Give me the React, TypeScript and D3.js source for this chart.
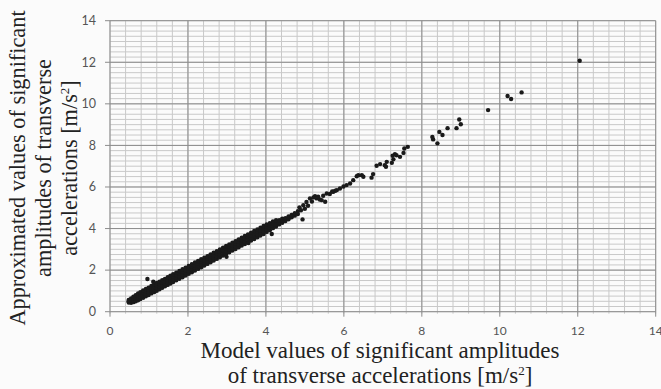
import React, { useEffect, useRef } from 'react';
import * as d3 from 'd3';

// dense band: [x, y1, y2, y3, y4]
const bandLow = [
  [0.48, 0.44, 0.5, 0.56],
  [0.54, 0.43, 0.51, 0.58, 0.64],
  [0.6, 0.46, 0.55, 0.64, 0.72],
  [0.66, 0.5, 0.61, 0.7, 0.79],
  [0.72, 0.55, 0.66, 0.77, 0.88],
  [0.78, 0.61, 0.71, 0.83, 0.94],
  [0.85, 0.67, 0.79, 0.9, 1.02],
  [0.92, 0.74, 0.85, 0.97, 1.09],
  [0.99, 0.8, 0.93, 1.05, 1.16],
  [1.06, 0.88, 0.99, 1.12, 1.24],
  [1.13, 0.94, 1.07, 1.19, 1.3],
  [1.2, 1.01, 1.13, 1.26, 1.38],
  [1.27, 1.08, 1.21, 1.33, 1.44],
  [1.34, 1.15, 1.27, 1.4, 1.52],
  [1.41, 1.22, 1.35, 1.47, 1.58],
  [1.48, 1.29, 1.41, 1.54, 1.66],
  [1.55, 1.36, 1.49, 1.61, 1.73],
  [1.62, 1.43, 1.55, 1.68, 1.8],
  [1.7, 1.51, 1.64, 1.76, 1.88],
  [1.78, 1.58, 1.71, 1.84, 1.96],
  [1.86, 1.66, 1.8, 1.92, 2.04],
  [1.94, 1.74, 1.87, 2.0, 2.12],
];

const bandMid = [
  [2.02, 1.82, 1.95, 2.08, 2.2],
  [2.1, 1.9, 2.04, 2.16, 2.28],
  [2.18, 1.98, 2.11, 2.24, 2.37],
  [2.26, 2.06, 2.2, 2.32, 2.44],
  [2.34, 2.14, 2.27, 2.4, 2.52],
  [2.42, 2.22, 2.36, 2.48, 2.6],
  [2.5, 2.3, 2.43, 2.56, 2.67],
  [2.58, 2.38, 2.52, 2.64, 2.76],
  [2.66, 2.46, 2.59, 2.72, 2.84],
  [2.74, 2.54, 2.68, 2.8, 2.91],
  [2.82, 2.62, 2.75, 2.88, 3.0],
  [2.9, 2.7, 2.84, 2.96, 3.08],
  [2.98, 2.78, 2.91, 3.04, 3.16],
  [3.06, 2.86, 3.0, 3.12, 3.24],
  [3.14, 2.94, 3.07, 3.2, 3.32],
  [3.22, 3.02, 3.16, 3.28, 3.39],
  [3.3, 3.1, 3.23, 3.36, 3.48],
  [3.38, 3.18, 3.32, 3.44, 3.56],
];

const bandHigh = [
  [3.46, 3.26, 3.39, 3.52, 3.64],
  [3.54, 3.34, 3.48, 3.6, 3.72],
  [3.62, 3.42, 3.55, 3.68, 3.8],
  [3.7, 3.5, 3.64, 3.76, 3.88],
  [3.78, 3.58, 3.71, 3.84, 3.96],
  [3.86, 3.66, 3.8, 3.92, 4.04],
  [3.94, 3.74, 3.87, 4.0, 4.12],
  [4.02, 3.84, 3.96, 4.08, 4.2],
  [4.1, 3.92, 4.04, 4.16, 4.26],
  [4.18, 4.02, 4.13, 4.24, 4.34],
  [4.26, 4.1, 4.2, 4.32, 4.4],
  [4.34, 4.2, 4.3, 4.4],
  [4.42, 4.28, 4.38, 4.48],
  [4.5, 4.36, 4.5],
  [4.58, 4.45, 4.58],
  [4.66, 4.54, 4.66],
  [4.74, 4.62, 4.74],
  [4.82, 4.7, 4.84],
];

// scattered points [x, y]
const strays = [
  [0.96, 1.57], [1.11, 1.44], [2.99, 2.64], [3.55, 3.3], [4.15, 3.74], [4.94, 4.44],
];

const tail = [
  [4.86, 5.02], [4.9, 4.88], [4.96, 5.12], [5.0, 4.95], [5.04, 5.28], [5.08, 5.1],
  [5.13, 5.45], [5.18, 5.3], [5.22, 5.5], [5.26, 5.56], [5.3, 5.45], [5.34, 5.53],
  [5.38, 5.4], [5.43, 5.37], [5.47, 5.58], [5.52, 5.29], [5.56, 5.69], [5.64, 5.66],
  [5.7, 5.78], [5.73, 5.77], [5.78, 5.82], [5.82, 5.85], [5.9, 5.93], [5.99, 6.02],
  [6.07, 6.09], [6.16, 6.17], [6.24, 6.33], [6.33, 6.52], [6.37, 6.57], [6.46, 6.57],
  [6.5, 6.49], [6.71, 6.45], [6.75, 6.62], [6.84, 7.02], [6.93, 7.1], [7.05, 7.05],
  [7.08, 6.97], [7.1, 7.21], [7.23, 7.16], [7.27, 7.33], [7.25, 7.5], [7.31, 7.58],
  [7.35, 7.53], [7.44, 7.45], [7.53, 7.64], [7.55, 7.85], [7.64, 7.93],
  [8.27, 8.41], [8.29, 8.29], [8.4, 8.1], [8.45, 8.65], [8.53, 8.5], [8.66, 8.83],
  [8.89, 8.83], [8.96, 9.25], [9.0, 9.02], [9.7, 9.7], [10.2, 10.38], [10.29, 10.23],
  [10.56, 10.55], [12.05, 12.07],
];

const xTicks = [0, 2, 4, 6, 8, 10, 12, 14];
const yTicks = [0, 2, 4, 6, 8, 10, 12, 14];

const yTitle = ['Approximated values of significant', 'amplitudes of transverse', 'accelerations [m/s'];
const xTitle = ['Model values of significant amplitudes', 'of transverse accelerations [m/s'];

const App = () => {
  const svgRef = useRef(null);

  useEffect(() => {
    const svg = d3.select(svgRef.current);
    svg.selectAll('*').remove();

    const x = d3.scaleLinear().domain([0, 14]).range([110, 655.7]);
    const y = d3.scaleLinear().domain([0, 14]).range([311.7, 20.7]);

    svg.append('rect').attr('width', 661).attr('height', 389).attr('fill', '#fbfbfb');

    const grid = svg.append('g');
    // minor grid
    d3.range(0, 14.001, 0.4).forEach(v => {
      grid.append('line')
        .attr('x1', x(v)).attr('x2', x(v))
        .attr('y1', y(14)).attr('y2', y(0) + 2)
        .attr('stroke', '#c9c9c9').attr('stroke-width', 1);
    });
    d3.range(0, 14.001, 0.25).forEach(v => {
      grid.append('line')
        .attr('x1', x(0)).attr('x2', x(14))
        .attr('y1', y(v)).attr('y2', y(v))
        .attr('stroke', '#c9c9c9').attr('stroke-width', 1);
    });
    // major grid
    xTicks.forEach(v => {
      grid.append('line')
        .attr('x1', x(v)).attr('x2', x(v))
        .attr('y1', y(14)).attr('y2', y(0) + 5)
        .attr('stroke', '#8c8c8c').attr('stroke-width', 1);
    });
    yTicks.forEach(v => {
      grid.append('line')
        .attr('x1', x(0) - 5).attr('x2', x(14))
        .attr('y1', y(v)).attr('y2', y(v))
        .attr('stroke', '#8c8c8c').attr('stroke-width', 1);
    });

    // tick labels
    svg.append('g').selectAll('text').data(xTicks).join('text')
      .attr('x', d => x(d)).attr('y', 334.5)
      .attr('text-anchor', 'middle')
      .attr('font-family', 'Lato, "Open Sans", sans-serif').attr('font-size', 12)
      .attr('fill', '#555').text(d => d);
    svg.append('g').selectAll('text').data(yTicks).join('text')
      .attr('x', 96).attr('y', d => y(d) + 4.3)
      .attr('text-anchor', 'end')
      .attr('font-family', 'Lato, "Open Sans", sans-serif').attr('font-size', 12.5)
      .attr('fill', '#555').text(d => d);

    // points
    const pts: number[][] = [];
    [...bandLow, ...bandMid, ...bandHigh].forEach(row => {
      row.slice(1).forEach(v => pts.push([row[0], v]));
    });
    strays.forEach(p => pts.push(p));
    tail.forEach(p => pts.push(p));

    svg.append('g').selectAll('circle').data(pts).join('circle')
      .attr('cx', d => x(d[0])).attr('cy', d => y(d[1]))
      .attr('r', 2.2).attr('fill', '#1a1a1a');

    // titles
    const serif = '"Liberation Serif", "Times New Roman", serif';
    const yPos = [25, 51, 77];
    yTitle.forEach((t, i) => {
      const txt = svg.append('text')
        .attr('transform', `translate(${yPos[i]},168) rotate(-90)`)
        .attr('text-anchor', 'middle')
        .attr('font-family', serif).attr('font-size', 22.3)
        .attr('fill', '#222');
      txt.append('tspan').text(t);
      if (i === 2) {
        txt.append('tspan').attr('font-size', 13).attr('dy', -8).text('2');
        txt.append('tspan').attr('dy', 8).text(']');
      }
    });
    const xPos = [358, 383];
    xTitle.forEach((t, i) => {
      const txt = svg.append('text')
        .attr('x', 380).attr('y', xPos[i])
        .attr('text-anchor', 'middle')
        .attr('font-family', serif).attr('font-size', 23)
        .attr('fill', '#222');
      txt.append('tspan').text(t);
      if (i === 1) {
        txt.append('tspan').attr('font-size', 13).attr('dy', -8).text('2');
        txt.append('tspan').attr('dy', 8).text(']');
      }
    });
  }, []);

  return (
    <svg ref={svgRef} width={661} height={389}
      style={{ position: 'absolute', left: 0, top: 0, display: 'block' }}></svg>
  );
};

export default App;
